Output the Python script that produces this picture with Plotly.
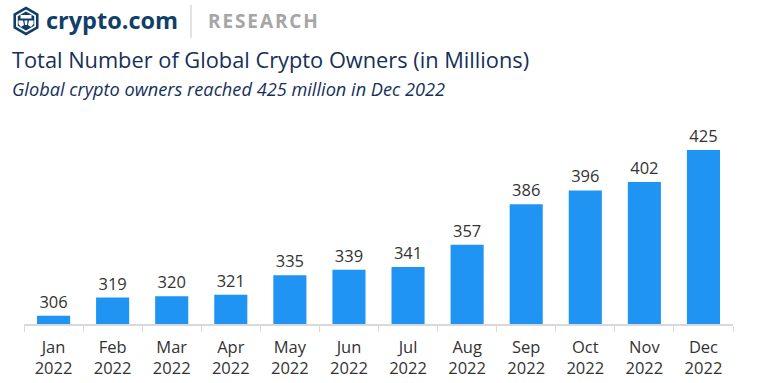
import plotly.graph_objects as go
import math

months = ["Jan", "Feb", "Mar", "Apr", "May", "Jun", "Jul", "Aug", "Sep", "Oct", "Nov", "Dec"]
year_label = "2022"
owners = [306, 319, 320, 321, 335, 339, 341, 357, 386, 396, 402, 425]

W, H = 763, 383
ML, MR, MT, MB = 24, 30, 130, 59
PW, PH = W - ML - MR, H - MT - MB


def px(x):
    return (x - ML) / PW


def py(y):
    return 1 - (y - MT) / PH


def poly(points):
    return "M " + " L ".join(f"{px(x)},{py(y)}" for x, y in points) + " Z"


cats = [f"{m}<br>{year_label}" for m in months]

fig = go.Figure(go.Bar(
    x=cats, y=owners,
    marker_color="#1f94f2",
    marker_line_width=0,
    text=[str(v) for v in owners],
    textposition="outside",
    textfont=dict(size=16.5, color="#333333", family="Open Sans"),
    cliponaxis=False,
    width=0.56,
))

fig.update_layout(
    width=W, height=H,
    margin=dict(l=ML, r=MR, t=MT, b=MB, autoexpand=False),
    plot_bgcolor="white", paper_bgcolor="white",
    showlegend=False,
    font=dict(family="Open Sans", color="#333333"),
    xaxis=dict(
        showgrid=False, showline=True, linecolor="#d9d9d9", linewidth=1.5,
        ticks="outside", tickson="boundaries", ticklen=6, tickcolor="#d9d9d9",
        tickfont=dict(size=16.5, color="#333333"), automargin=False,
        ticklabelstandoff=7,
    ),
    yaxis=dict(range=[300, 439.4], visible=False, showgrid=False, automargin=False),
)

shapes = []
cx, cy = 26, 21


def hexagon(r):
    pts = []
    for k in range(6):
        a = math.radians(90 + 60 * k)
        pts.append((cx + r * math.cos(a), cy - r * math.sin(a)))
    return pts


shapes.append(dict(type="path", xref="paper", yref="paper", path=poly(hexagon(14.5)),
                   fillcolor="#0f3d68", line=dict(width=0)))
shapes.append(dict(type="path", xref="paper", yref="paper", path=poly(hexagon(11.5)),
                   fillcolor="white", line=dict(width=0)))
shapes.append(dict(type="path", xref="paper", yref="paper", path=poly(hexagon(9.5)),
                   fillcolor="#0f3d68", line=dict(width=0)))
cap = [(cx - 5.5, cy - 6), (cx + 5.5, cy - 6), (cx + 5.5, cy - 2.5), (cx - 5.5, cy - 2.5)]
shapes.append(dict(type="path", xref="paper", yref="paper", path=poly(cap),
                   fillcolor="white", line=dict(width=0)))
left = [(cx - 7.5, cy - 0.5), (cx - 3, cy - 0.5), (cx - 2, cy + 4), (cx - 5, cy + 6), (cx - 7.5, cy + 3)]
right = [(cx + 7.5, cy - 0.5), (cx + 3, cy - 0.5), (cx + 2, cy + 4), (cx + 5, cy + 6), (cx + 7.5, cy + 3)]
mid = [(cx - 1.5, cy - 0.5), (cx + 1.5, cy - 0.5), (cx + 1, cy + 4), (cx - 1, cy + 4)]
for p in (left, right, mid):
    shapes.append(dict(type="path", xref="paper", yref="paper", path=poly(p),
                       fillcolor="white", line=dict(width=0)))
shapes.append(dict(type="line", xref="paper", yref="paper",
                   x0=px(191), x1=px(191), y0=py(5), y1=py(38),
                   line=dict(color="#d0d0d0", width=1.2)))
fig.update_layout(shapes=shapes)

ann = [
    dict(text="<b>crypto.com</b>", x=px(44), y=py(20), xanchor="left", yanchor="middle",
         font=dict(size=23.5, color="#103f68", family="Open Sans")),
    dict(text="<b>R E S E A R C H</b>".replace(" ", "\u200a"), x=px(206), y=py(21), xanchor="left", yanchor="middle",
         font=dict(size=19, color="#a6a6a6", family="Open Sans")),
    dict(text="Total Number of Global Crypto Owners (in Millions)", x=px(10), y=py(60),
         xanchor="left", yanchor="middle",
         font=dict(size=21.8, color="#15305a", family="Open Sans")),
    dict(text="<i>Global crypto owners reached 425 million in Dec 2022</i>", x=px(10), y=py(89),
         xanchor="left", yanchor="middle",
         font=dict(size=18.2, color="#15305a", family="Open Sans")),
]
for a in ann:
    a.update(xref="paper", yref="paper", showarrow=False)
fig.update_layout(annotations=ann)

fig.write_html("out.html", config={"displayModeBar": False},
               post_script="document.body.style.margin='0px';")
